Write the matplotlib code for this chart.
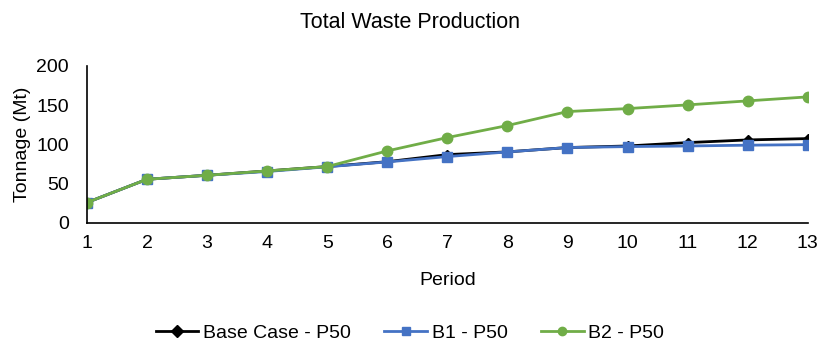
import matplotlib.pyplot as plt

plt.rcParams['font.family'] = ['Liberation Sans', 'DejaVu Sans']

periods = list(range(1, 14))
base_case = [26, 55.6, 60.7, 66.2, 71.8, 78, 87, 90.5, 96, 98, 102.3, 105.7, 107.4]
b1 = [26, 55.6, 60.7, 65.5, 71.5, 77.7, 84.5, 90.4, 96, 97.2, 98, 99, 99.7]
b2 = [26, 55.6, 60.7, 66.2, 71.8, 91.7, 108.7, 124, 141.8, 145.6, 150.3, 155.4, 160.5]

BLACK = '#000000'
BLUE = '#4472c4'
GREEN = '#70ad47'

fig = plt.figure(figsize=(8.2, 3.43), dpi=100)
ax = fig.add_axes([0.106, 0.350, 0.879, 0.458])

ax.plot(periods, base_case, color=BLACK, lw=2, marker='D', ms=5, label='Base Case - P50')
ax.plot(periods, b1, color=BLUE, lw=2, marker='s', ms=7, label='B1 - P50')
ax.plot(periods, b2, color=GREEN, lw=2, marker='o', ms=7.5, label='B2 - P50')

ax.set_xlim(1, 13)
ax.set_ylim(0, 200)
ax.set_xticks(periods)
ax.set_yticks([0, 50, 100, 150, 200])
ax.tick_params(length=0, labelsize=14)
ax.tick_params(axis='x', pad=9)
ax.tick_params(axis='y', pad=13)
for s in ['top', 'right']:
    ax.spines[s].set_visible(False)
ax.spines['left'].set_linewidth(1.2)
ax.spines['bottom'].set_linewidth(1.2)
ax.patch.set_alpha(0)

ax.set_xlabel('Period', fontsize=14, labelpad=14)
ax.set_ylabel('Tonnage (Mt)', fontsize=14, labelpad=4)
fig.text(0.5, 0.935, 'Total Waste Production', ha='center', va='center', fontsize=15.5)

leg = fig.legend(loc='center', bbox_to_anchor=(0.5, 0.028), ncol=3, frameon=False,
                 fontsize=14, handlelength=2.2, columnspacing=1.7, handletextpad=0.25)
for h in leg.legend_handles:
    h.set_markersize(6)

fig.savefig('out.png', dpi=100, facecolor='white')
